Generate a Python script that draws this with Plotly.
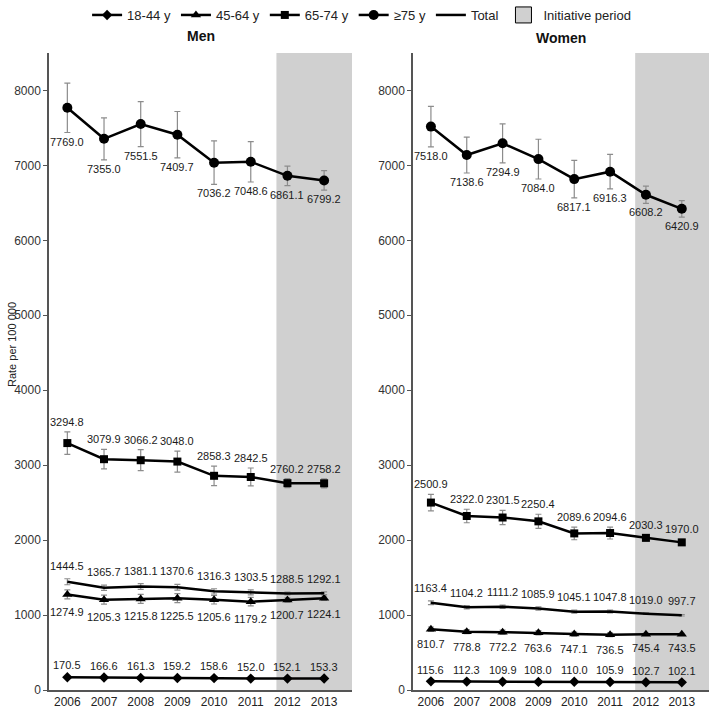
import plotly.graph_objects as go

years = [2006, 2007, 2008, 2009, 2010, 2011, 2012, 2013]

men_1844 = [170.5, 166.6, 161.3, 159.2, 158.6, 152.0, 152.1, 153.3]
men_4564 = [1274.9, 1205.3, 1215.8, 1225.5, 1205.6, 1179.2, 1200.7, 1224.1]
men_6574 = [3294.8, 3079.9, 3066.2, 3048.0, 2858.3, 2842.5, 2760.2, 2758.2]
men_75 = [7769.0, 7355.0, 7551.5, 7409.7, 7036.2, 7048.6, 6861.1, 6799.2]
men_total = [1444.5, 1365.7, 1381.1, 1370.6, 1316.3, 1303.5, 1288.5, 1292.1]

women_1844 = [115.6, 112.3, 109.9, 108.0, 110.0, 105.9, 102.7, 102.1]
women_4564 = [810.7, 778.8, 772.2, 763.6, 747.1, 736.5, 745.4, 743.5]
women_6574 = [2500.9, 2322.0, 2301.5, 2250.4, 2089.6, 2094.6, 2030.3, 1970.0]
women_75 = [7518.0, 7138.6, 7294.9, 7084.0, 6817.1, 6916.3, 6608.2, 6420.9]
women_total = [1163.4, 1104.2, 1111.2, 1085.9, 1045.1, 1047.8, 1019.0, 997.7]

# estimated 95% CI half-widths
men_1844_err = [10, 10, 10, 10, 10, 10, 6, 6]
men_4564_err = [60, 60, 60, 60, 58, 56, 30, 30]
men_6574_err = [150, 130, 140, 140, 130, 120, 60, 60]
men_75_err = [330, 280, 300, 310, 290, 270, 130, 130]
men_total_err = [40, 35, 38, 38, 35, 33, 18, 18]

women_1844_err = [8, 8, 8, 8, 8, 8, 5, 5]
women_4564_err = [30, 28, 28, 28, 27, 26, 14, 14]
women_6574_err = [110, 90, 95, 95, 85, 80, 40, 40]
women_75_err = [270, 240, 260, 265, 250, 230, 115, 110]
women_total_err = [25, 22, 22, 22, 20, 20, 10, 10]

initiative_start = 2011.7
tick_vals_y = [0, 1000, 2000, 3000, 4000, 5000, 6000, 7000, 8000]

series = [
    # name, symbol, size, men, men_err, women, women_err, label pos, shift
    ("18-44 y", "diamond", 8, men_1844, men_1844_err, women_1844, women_1844_err, "up", 3),
    ("45-64 y", "triangle-up", 9, men_4564, men_4564_err, women_4564, women_4564_err, "down", 5),
    ("65-74 y", "square", 8, men_6574, men_6574_err, women_6574, women_6574_err, "up", 2),
    ("\u226575 y", "circle", 10, men_75, men_75_err, women_75, women_75_err, "down", 1),
    ("Total", None, 0, men_total, men_total_err, women_total, women_total_err, "up", 5),
]

fig = go.Figure()
annotations = []
GRAY_ERR = "#8c8c8c"
FONT = "Liberation Sans, Arial, sans-serif"
LABEL_FONT = dict(family=FONT, size=11, color="#1a1a1a")

for name, sym, size, mv, me, wv, we, pos, shift in series:
    for panel, vals, errs, xa, ya in [("m", mv, me, "x", "y"), ("w", wv, we, "x2", "y2")]:
        kw = dict(
            x=years, y=vals, xaxis=xa, yaxis=ya, name=name, legendgroup=name,
            showlegend=(panel == "m"),
            line=dict(color="black", width=2.5),
            error_y=dict(type="data", array=errs, visible=True, color=GRAY_ERR, thickness=1.2, width=3),
            hoverinfo="skip",
        )
        if sym:
            kw["mode"] = "lines+markers"
            kw["marker"] = dict(symbol=sym, size=size, color="black")
        else:
            kw["mode"] = "lines"
        fig.add_trace(go.Scatter(**kw))
        for xv, v, e in zip(years, vals, errs):
            if pos == "down":
                annotations.append(dict(x=xv, y=v - e, xref=xa, yref=ya, text=f"{v:.1f}", showarrow=False,
                                        yanchor="top", yshift=-shift, font=LABEL_FONT))
            else:
                annotations.append(dict(x=xv, y=v + e, xref=xa, yref=ya, text=f"{v:.1f}", showarrow=False,
                                        yanchor="bottom", yshift=shift, font=LABEL_FONT))

# legend entry for the shaded period
fig.add_trace(go.Scatter(x=[None], y=[None], mode="markers", name="Initiative period",
                         marker=dict(symbol="square", size=16, color="#d0d0d0",
                                     line=dict(color="black", width=1)),
                         xaxis="x", yaxis="y"))

for xr in ["x", "x2"]:
    fig.add_shape(type="rect", xref=xr, yref=("y" if xr == "x" else "y2") + " domain",
                  x0=initiative_start, x1=2013.76, y0=0, y1=1,
                  fillcolor="#d0d0d0", line=dict(width=0), layer="below")

axis_font = dict(family=FONT, size=12, color="#333333")
xcommon = dict(range=[2005.5, 2013.76], tickvals=years, ticktext=[str(y) for y in years],
               showgrid=False, zeroline=False, showline=True, linecolor="#555555", linewidth=1.5,
               ticks="", automargin=False, tickfont=dict(family=FONT, size=12, color="#222222"))
ycommon = dict(range=[0, 8500], tickvals=tick_vals_y, showgrid=False, zeroline=False,
               showline=True, linecolor="#555555", linewidth=1.5, ticks="outside", ticklen=4,
               tickcolor="#555555", automargin=False, tickfont=axis_font)

fig.update_layout(
    width=709, height=713,
    margin=dict(l=0, r=0, t=0, b=0),
    plot_bgcolor="white", paper_bgcolor="white",
    xaxis=dict(domain=[49 / 709, 352 / 709], anchor="y", **xcommon),
    xaxis2=dict(domain=[413 / 709, 1.0], anchor="y2", **xcommon),
    yaxis=dict(domain=[23 / 713, 660 / 713], anchor="x", **ycommon),
    yaxis2=dict(domain=[23 / 713, 660 / 713], anchor="x2", **ycommon),
    legend=dict(orientation="h", x=0.51, xanchor="center", y=1.0, yanchor="top",
                font=dict(family=FONT, size=13, color="#222222"),
                itemwidth=30, tracegroupgap=0),
    showlegend=True,
)

annotations += [
    dict(text="<b>Men</b>", x=(49 + 352) / 2 / 709, y=(713 - 36) / 713, xref="paper", yref="paper",
         xanchor="center", yanchor="middle",
         showarrow=False, font=dict(family=FONT, size=14, color="#111111")),
    dict(text="<b>Women</b>", x=(413 + 709) / 2 / 709, y=(713 - 38) / 713, xref="paper", yref="paper",
         xanchor="center", yanchor="middle",
         showarrow=False, font=dict(family=FONT, size=14, color="#111111")),
    dict(text="Rate per 100 000", x=12 / 709, y=(713 - 345) / 713, xref="paper", yref="paper",
         xanchor="center", yanchor="middle",
         showarrow=False, textangle=-90, font=dict(family=FONT, size=11, color="#222222")),
]
fig.update_layout(annotations=annotations)

fig.write_html("out.html", config={"displayModeBar": False},
               post_script="document.body.style.margin='0';document.body.style.overflow='hidden';")
